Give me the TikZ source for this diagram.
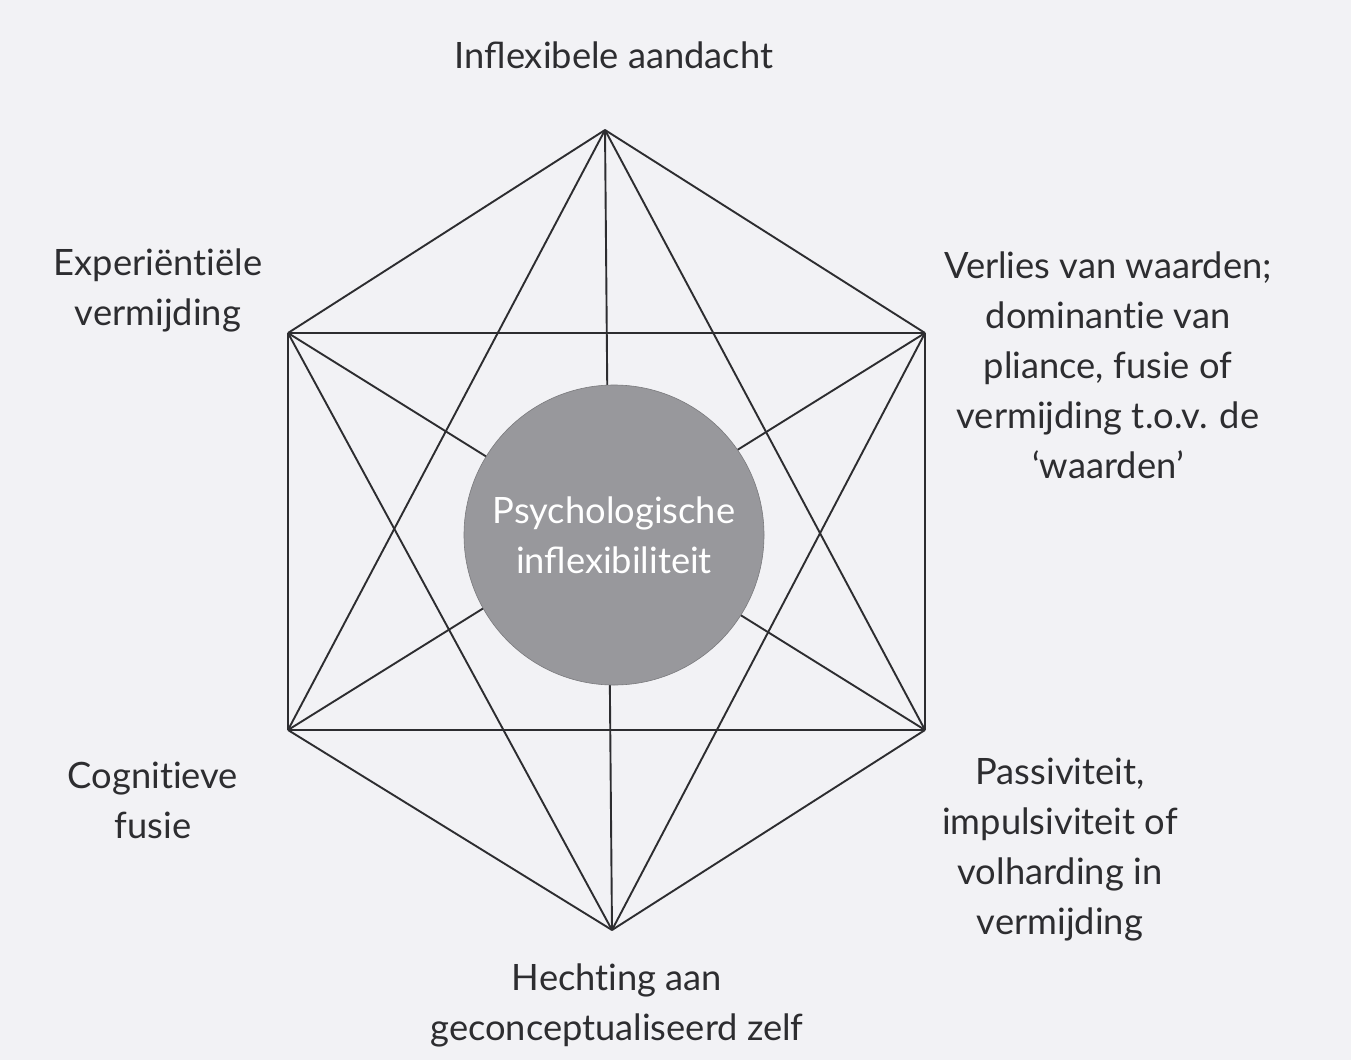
\documentclass[tikz,border=0pt]{standalone}
\usepackage{fontspec}
\setmainfont{Lato}[Ligatures=NoCommon]
\definecolor{paper}{RGB}{242,242,245}
\definecolor{ink}{RGB}{45,45,48}
\definecolor{disc}{RGB}{152,152,156}
\begin{document}
\begin{tikzpicture}[x=1pt,y=-1pt,
  edge/.style={draw=ink,line width=1.9pt,line join=round},
  label/.style={text=ink,align=center,inner sep=0pt,
    font=\fontsize{36.3}{50}\selectfont},
  core/.style={circle,fill=disc,draw=disc!80!black,line width=0.6pt,
    minimum size=300pt,inner sep=0pt,text=white,align=center,
    font=\fontsize{36.3}{50}\selectfont}]
  % page
  \fill[paper] (0,0) rectangle (1351,1060);
  \useasboundingbox (0,0) rectangle (1351,1060);
  % corners of the hexagon
  \coordinate (T)  at (605,130);
  \coordinate (UL) at (288,333);
  \coordinate (UR) at (925,333);
  \coordinate (LL) at (288,730);
  \coordinate (LR) at (925,730);
  \coordinate (B)  at (612,930);
  % every corner joined to every other corner
  \foreach \a/\b in {T/UL,T/UR,T/LL,T/LR,T/B,
                     UL/UR,UL/LL,UL/LR,UL/B,
                     UR/LL,UR/LR,UR/B,
                     LL/LR,LL/B,LR/B}
    \draw[edge] (\a) -- (\b);
  % centre disc
  \node[core] (c) at (614,535) {Psychologische\\inﬂexibiliteit};
  % labels
  \node[label] (lt)  at (614,55)   {Inﬂexibele aandacht};
  \node[label] (lul) at (158,290)  {Experiëntiële\\vermijding};
  \node[label] (lur) at (1108,365) {Verlies van waarden;\\dominantie van\\pliance, fusie of\\vermijding t.o.v. de\\‘waarden’};
  \node[label] (lll) at (153,800)  {Cognitieve\\fusie};
  \node[label] (llr) at (1060,850) {Passiviteit,\\impulsiviteit of\\volharding in\\vermijding};
  \node[label] (lb)  at (617,1005) {Hechting aan\\geconceptualiseerd zelf};
\end{tikzpicture}
\end{document}
